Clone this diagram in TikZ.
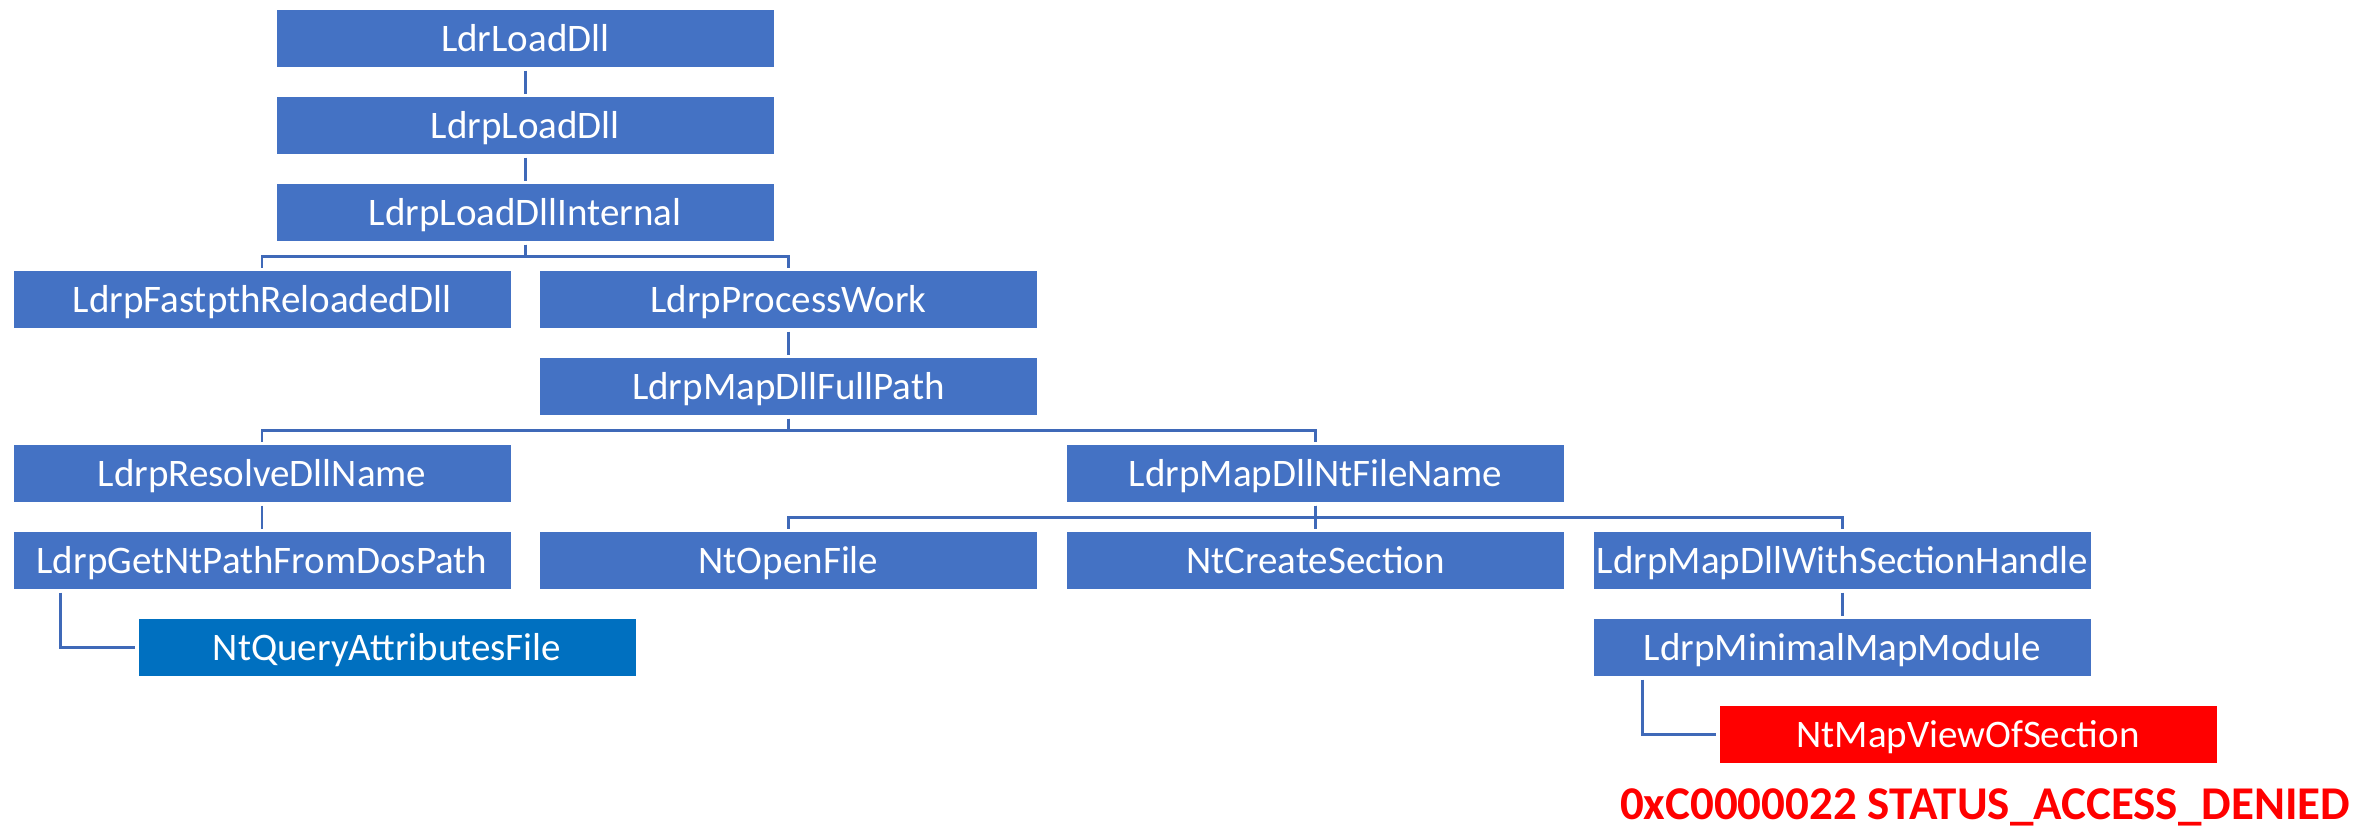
\documentclass[tikz,border=0pt]{standalone}
\usepackage{fontspec}
\setmainfont{Carlito}
\definecolor{boxblue}{HTML}{4472C4}
\definecolor{qblue}{HTML}{0070C0}
\definecolor{linecol}{HTML}{3F69B8}
\definecolor{errred}{HTML}{FF0000}
\begin{document}
\begin{tikzpicture}[x=1pt,y=-1pt,
  fn/.style={rectangle, fill=boxblue, draw=white, line width=1pt, minimum width=498pt, minimum height=58pt, inner sep=0pt, text=white, font=\fontsize{39}{44}\selectfont, text height=25pt, text depth=0pt},
  conn/.style={draw=linecol, line width=2.5pt, shorten <=2.5pt, shorten >=2.5pt}]
\useasboundingbox (0,0) rectangle (2369,827);
\node[fn] (lld) at (525.25,38.5) {LdrLoadDll};
\node[fn] (lpld) at (525.25,125.5) {LdrpLoadDll};
\node[fn] (lpldi) at (525.25,212.5) {LdrpLoadDllInternal};
\node[fn] (fast) at (262,299.5) {LdrpFastpthReloadedDll};
\node[fn] (pw) at (788.5,299.5) {LdrpProcessWork};
\node[fn] (mfp) at (788.5,386.5) {LdrpMapDllFullPath};
\node[fn] (res) at (262,473.5) {LdrpResolveDllName};
\node[fn] (mnt) at (1315.5,473.5) {LdrpMapDllNtFileName};
\node[fn] (gnt) at (262,560.5) {LdrpGetNtPathFromDosPath};
\node[fn] (open) at (788.5,560.5) {NtOpenFile};
\node[fn] (cs) at (1315.5,560.5) {NtCreateSection};
\node[fn] (mws) at (1842.5,560.5) {LdrpMapDllWithSectionHandle};
\node[fn, fill=qblue] (qaf) at (387,647.5) {NtQueryAttributesFile};
\node[fn] (mmm) at (1842.5,647.5) {LdrpMinimalMapModule};
\node[fn, fill=errred] (mvs) at (1968,734.5) {NtMapViewOfSection};
\node[anchor=base, text=errred, font=\fontsize{47}{52}\selectfont\bfseries, inner sep=0pt] (err) at (1985,819) {0xC0000022 STATUS\_ACCESS\_DENIED};
% connectors
\draw[conn] (lld.south) -- (lpld.north);
\draw[conn] (lpld.south) -- (lpldi.north);
\draw[conn] (lpldi.south) -- ++(0,14.5) -| (fast.north);
\draw[conn] (lpldi.south) -- ++(0,14.5) -| (pw.north);
\draw[conn] (pw.south) -- (mfp.north);
\draw[conn] (mfp.south) -- ++(0,14.5) -| (res.north);
\draw[conn] (mfp.south) -- ++(0,14.5) -| (mnt.north);
\draw[conn] (res.south) -- (gnt.north);
\draw[conn] (mnt.south) -- ++(0,14.5) -| (open.north);
\draw[conn] (mnt.south) -- ++(0,14.5) -| (cs.north);
\draw[conn] (mnt.south) -- ++(0,14.5) -| (mws.north);
\draw[conn] ([xshift=48pt]gnt.south west) |- (qaf.west);
\draw[conn] (mws.south) -- (mmm.north);
\draw[conn] ([xshift=49.5pt]mmm.south west) |- (mvs.west);
\end{tikzpicture}
\end{document}
